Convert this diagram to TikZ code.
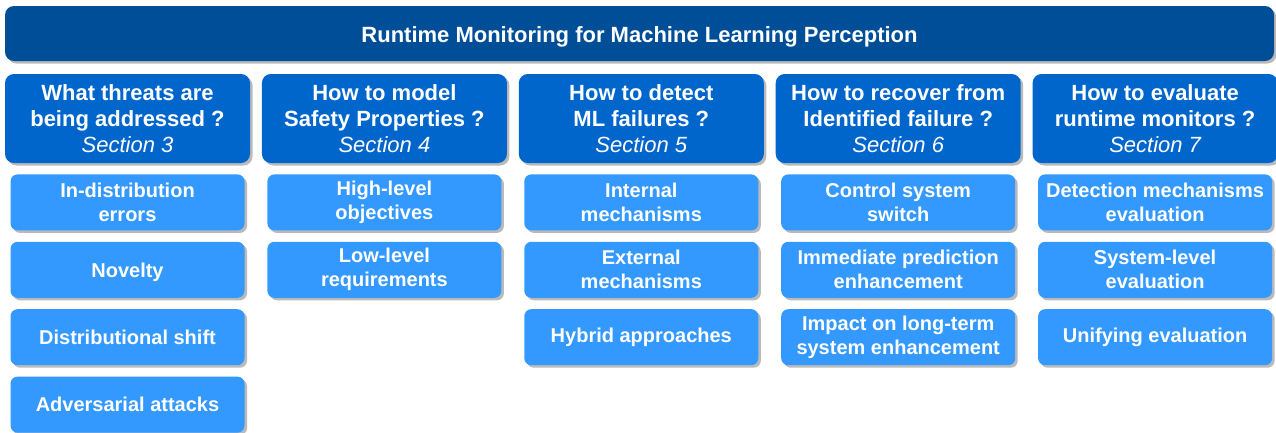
\documentclass[tikz,border=0pt]{standalone}
\usepackage{fontspec}
\setmainfont{Liberation Sans}
\usetikzlibrary{positioning,shadows}
\definecolor{titleblue}{RGB}{0,78,152}
\definecolor{askblue}{RGB}{0,102,204}
\definecolor{itemblue}{RGB}{51,153,255}

\begin{document}
\begin{tikzpicture}[x=1pt, y=1pt, node distance=11pt,
  panel/.style = {shape=rectangle, rounded corners=9pt, align=center,
    text=white, inner sep=0pt,
    drop shadow={shadow xshift=2.5pt, shadow yshift=-2.5pt, fill=black!27, opacity=1}},
  titlebox/.style = {panel, fill=titleblue, minimum width=1269pt, minimum height=55pt,
    font=\fontsize{22}{26}\selectfont\bfseries},
  askbox/.style = {panel, fill=askblue, minimum width=245pt, minimum height=89pt,
    font=\fontsize{22}{26}\selectfont\bfseries},
  itembox/.style = {panel, fill=itemblue, rounded corners=7pt, minimum width=234pt,
    minimum height=56pt, font=\fontsize{20}{24}\selectfont\bfseries}]
  \useasboundingbox (0,0) rectangle (1276,-432);
  \node[titlebox] (title) at (639.5,-33.5) {\raisebox{-3pt}[\height][\depth]{Runtime Monitoring for Machine Learning Perception}};
  % the five questions
  \node[askbox] (threats) at (127.5,-118.5) {What threats are\\ being addressed ?\\ {\mdseries\itshape Section 3}};
  \node[askbox, right=11.5pt of threats] (model) {How to model\\ Safety Properties ?\\ {\mdseries\itshape Section 4}};
  \node[askbox, right=11.5pt of model] (detect) {How to detect\\ ML failures ?\\ {\mdseries\itshape Section 5}};
  \node[askbox, right=11.5pt of detect] (recover) {How to recover from\\ Identified failure ?\\ {\mdseries\itshape Section 6}};
  \node[askbox, right=11.5pt of recover] (evaluate) {How to evaluate\\ runtime monitors ?\\ {\mdseries\itshape Section 7}};
  % what each question covers
  \node[itembox, below=of threats] (threats1) {In-distribution\\ errors};
  \node[itembox, below=of threats1] (threats2) {\raisebox{-3pt}[\height][\depth]{Novelty}};
  \node[itembox, below=of threats2] (threats3) {Distributional shift};
  \node[itembox, below=of threats3] (threats4) {Adversarial attacks};
  \node[itembox, below=of model] (model1) {High-level\\ objectives};
  \node[itembox, below=of model1] (model2) {Low-level\\ requirements};
  \node[itembox, below=of detect] (detect1) {Internal\\ mechanisms};
  \node[itembox, below=of detect1] (detect2) {External\\ mechanisms};
  \node[itembox, below=of detect2] (detect3) {Hybrid approaches};
  \node[itembox, below=of recover] (recover1) {Control system\\ switch};
  \node[itembox, below=of recover1] (recover2) {Immediate prediction\\ enhancement};
  \node[itembox, below=of recover2] (recover3) {Impact on long-term\\ system enhancement};
  \node[itembox, below=of evaluate] (evaluate1) {Detection mechanisms\\ evaluation};
  \node[itembox, below=of evaluate1] (evaluate2) {System-level\\ evaluation};
  \node[itembox, below=of evaluate2] (evaluate3) {Unifying evaluation};
\end{tikzpicture}
\end{document}
